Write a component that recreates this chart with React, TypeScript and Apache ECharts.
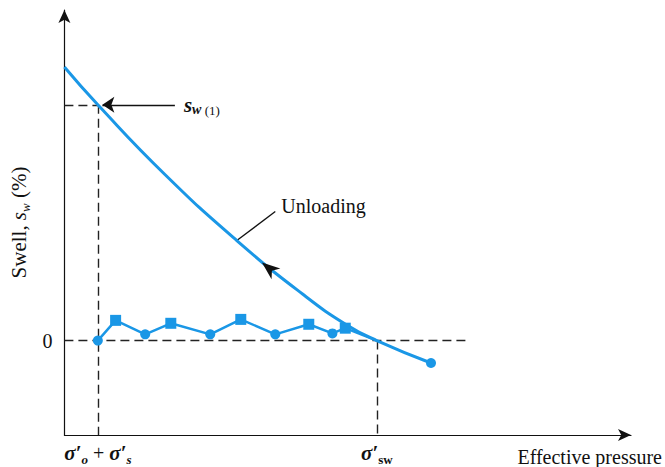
import React, { useEffect, useRef } from "react";
import * as echarts from "echarts";

const FONT = '"Liberation Serif", "Times New Roman", serif';
const BLUE = "#1a97e6";

// Unloading curve (effective pressure, swell)
const curveX = [0, 5.9, 17.74, 30.43, 42.09, 49.91, 55.13, 64.7];
const curveY = [8.4, 7.24, 5.1, 3.07, 1.42, 0.47, 0, -0.69];

// Swell test points
const swellX = [5.9, 9.04, 14.26, 18.78, 25.74, 31.13, 37.22, 43.13, 47.3, 49.57, 55.13];
const swellY = [0, 0.62, 0.19, 0.53, 0.19, 0.65, 0.19, 0.5, 0.22, 0.38, 0];
const swellSym = ["circle", "rect", "circle", "rect", "circle", "rect", "circle", "rect", "circle", "rect", "none"];

// Key values
const sigmaOS = 5.9; // σ'o + σ's
const sigmaSW = 55.13; // σ'sw
const sw1 = 7.24; // s_w(1)
const zeroLineEnd = 71.3;
const xTicks = [sigmaOS, sigmaSW];
const yTicks = [0];
const X_MIN = 0, X_MAX = 100, Y_MIN = -2.9, Y_MAX = 10.15;

// Annotations
const sw1Arrow = [[19.5, sw1], [6.7, sw1]];
const sw1LabelAt = [21.0, sw1];
const unloadLeader = [[30.43, 3.07], [37.22, 3.96]];
const unloadLabelAt = [38.2, 4.12];
const flowArrowAt = [36.1, 2.22];

export default function App() {
  const ref = useRef<HTMLDivElement>(null);
  useEffect(() => {
    if (!ref.current) return;
    const chart = echarts.init(ref.current, null, { renderer: "svg" });
    const guides = [
      [[X_MIN, 0], [zeroLineEnd, 0]],
      [[X_MIN, sw1], [sigmaOS, sw1]],
      [[sigmaOS, sw1], [sigmaOS, Y_MIN]],
      [[sigmaSW, 0], [sigmaSW, Y_MIN]],
    ];
    const txt = { fontFamily: FONT, color: "#111" };
    chart.setOption({
      animation: false,
      backgroundColor: "#fff",
      grid: { left: 58, right: 33, top: 10, bottom: 31, containLabel: false },
      xAxis: {
        type: "value",
        min: X_MIN,
        max: X_MAX,
        splitLine: { show: false },
        axisTick: { show: false },
        axisLine: {
          onZero: false,
          lineStyle: { color: "#111", width: 1.2 },
          symbol: ["none", "arrow"],
          symbolSize: [9, 13],
        },
        axisLabel: {
          customValues: xTicks,
          margin: 5,
          formatter: (v: number) =>
            Math.abs(v - sigmaOS) < 0.01
              ? "{s|σ′}{sub|o}{p| + }{s|σ′}{sub|s}"
              : "{s|σ′}{subr|sw}",
          rich: {
            s: { ...txt, fontSize: 21, fontWeight: "bold", fontStyle: "italic", lineHeight: 26 },
            p: { ...txt, fontSize: 20, lineHeight: 26 },
            sub: { ...txt, fontSize: 13, fontWeight: "bold", fontStyle: "italic", verticalAlign: "bottom", lineHeight: 13 },
            subr: { ...txt, fontSize: 13, fontWeight: "bold", verticalAlign: "bottom", lineHeight: 13 },
          },
        },
        name: "Effective pressure",
        nameLocation: "end",
        nameGap: 31,
        nameTextStyle: { ...txt, fontSize: 20, align: "right", verticalAlign: "top", padding: [12, 0, 0, 0] },
      },
      yAxis: {
        type: "value",
        min: Y_MIN,
        max: Y_MAX,
        splitLine: { show: false },
        axisTick: { show: false },
        axisLine: {
          onZero: false,
          lineStyle: { color: "#111", width: 1.2 },
          symbol: ["none", "arrow"],
          symbolSize: [9, 13],
        },
        axisLabel: { customValues: yTicks, margin: 12, ...txt, fontSize: 20 },
        name: "{r|Swell, }{i|s}{sub|w}{r| (%)}",
        nameLocation: "middle",
        nameRotate: 90,
        nameGap: 30,
        nameTextStyle: {
          rich: {
            r: { ...txt, fontSize: 21, lineHeight: 26 },
            i: { ...txt, fontSize: 21, fontStyle: "italic", lineHeight: 26 },
            sub: { ...txt, fontSize: 13, fontStyle: "italic", verticalAlign: "bottom", lineHeight: 13 },
          },
        },
      },
      series: [
        {
          type: "lines",
          coordinateSystem: "cartesian2d",
          silent: true,
          z: 1,
          data: guides.map((c) => ({ coords: c })),
          lineStyle: { color: "#222", width: 1.4, type: [9, 5], opacity: 1 },
        },
        {
          type: "lines",
          coordinateSystem: "cartesian2d",
          silent: true,
          z: 3,
          symbol: ["none", "arrow"],
          symbolSize: 12,
          data: [{ coords: sw1Arrow }],
          lineStyle: { color: "#111", width: 1.3, opacity: 1 },
        },
        {
          type: "lines",
          coordinateSystem: "cartesian2d",
          silent: true,
          z: 3,
          data: [{ coords: unloadLeader }],
          lineStyle: { color: "#111", width: 1.3, opacity: 1 },
        },
        {
          type: "line",
          z: 4,
          data: swellX.map((x, i) => ({ value: [x, swellY[i]], symbol: swellSym[i], symbolSize: swellSym[i] === "rect" ? 11 : 10 })),
          showAllSymbol: true,
          lineStyle: { color: BLUE, width: 2.5 },
          itemStyle: { color: BLUE },
        },
        {
          type: "line",
          z: 5,
          smooth: 0.5,
          data: curveX.map((x, i) => ({
            value: [x, curveY[i]],
            symbol: i === curveX.length - 1 ? "circle" : "none",
            symbolSize: 10,
          })),
          showAllSymbol: true,
          lineStyle: { color: BLUE, width: 3 },
          itemStyle: { color: BLUE },
          markPoint: {
            silent: true,
            z: 10,
            data: [
              {
                coord: sw1LabelAt,
                symbol: "circle",
                symbolSize: 1,
                itemStyle: { color: "rgba(0,0,0,0)" },
                label: {
                  show: true,
                  position: "right",
                  distance: 0,
                  formatter: "{i|s}{subi|w}{sub| (1)}",
                  rich: {
                    i: { ...txt, fontSize: 21, fontStyle: "italic", fontWeight: "bold", lineHeight: 24 },
                    subi: { ...txt, fontSize: 14, fontStyle: "italic", fontWeight: "bold", verticalAlign: "bottom", lineHeight: 14 },
                    sub: { ...txt, fontSize: 13, verticalAlign: "bottom", lineHeight: 14 },
                  },
                },
              },
              {
                coord: unloadLabelAt,
                symbol: "circle",
                symbolSize: 1,
                itemStyle: { color: "rgba(0,0,0,0)" },
                label: { show: true, position: "right", distance: 0, formatter: "Unloading", ...txt, fontSize: 20 },
              },
              {
                coord: flowArrowAt,
                symbol: "path://M0,0 L6,14 L0,10 L-6,14 Z",
                symbolRotate: 51,
                symbolSize: [14, 18],
                itemStyle: { color: "#111" },
                label: { show: false },
              },
            ],
          },
        },
      ],
    });
    return () => chart.dispose();
  }, []);
  return <div ref={ref} style={{ width: 665, height: 467, position: "absolute", left: 0, top: 0 }} />;
}
